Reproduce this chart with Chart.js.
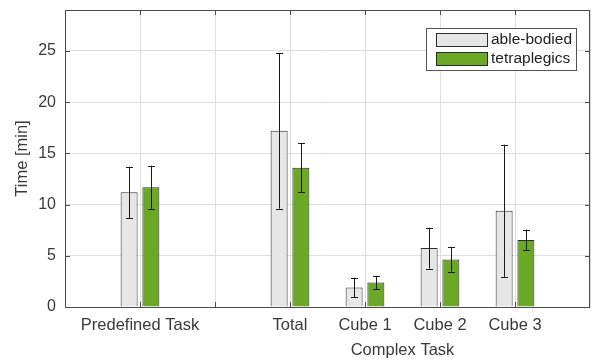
<!DOCTYPE html>
<html>
<head>
<meta charset="utf-8">
<script src="https://cdn.jsdelivr.net/npm/chart.js@4/dist/chart.umd.min.js"></script>
<style>
html,body{margin:0;padding:0;background:#fff;}
#wrap{width:594px;height:360px;position:relative;}
</style>
</head>
<body>
<div id="wrap"><canvas id="c" width="594" height="360"></canvas></div>
<script>
const categories = ["", "Predefined Task", "", "Total", "Cube 1", "Cube 2", "Cube 3", ""];
const ableMean  = [null, 11.2, 0, 17.2, 1.9, 5.75, 9.4, null];
const ableErr   = [null, 2.5, 0, 7.6, 0.95, 2.0, 6.45, null];
const tetraMean = [null, 11.7, 0, 13.6, 2.4, 4.65, 6.55, null];
const tetraErr  = [null, 2.1, 0, 2.4, 0.65, 1.2, 1.0, null];
const seriesNames = ["able-bodied", "tetraplegics"];
const groupLabel = "Complex Task";
const yTicks = [0, 5, 10, 15, 20, 25];

const FONT = "'Liberation Sans', Arial, Helvetica, sans-serif";
const TXT = '#3a3a3a';
const AXIS = '#4a4a4a';

const errorBars = {
  id: 'errorBars',
  afterDatasetsDraw(chart) {
    const ctx = chart.ctx, ys = chart.scales.y;
    const errs = [ableErr, tetraErr];
    ctx.save();
    ctx.strokeStyle = '#1a1a1a';
    ctx.lineWidth = 1;
    chart.data.datasets.forEach((ds, di) => {
      const meta = chart.getDatasetMeta(di);
      meta.data.forEach((bar, i) => {
        const v = ds.data[i], e = errs[di][i];
        if (v == null || !e) return;
        const x = Math.round(bar.x) + 0.5;
        const y1 = ys.getPixelForValue(v + e), y0 = ys.getPixelForValue(v - e);
        ctx.beginPath();
        ctx.moveTo(x, y0); ctx.lineTo(x, y1);
        ctx.moveTo(x - 3.5, Math.round(y1) + 0.5); ctx.lineTo(x + 3.5, Math.round(y1) + 0.5);
        ctx.moveTo(x - 3.5, Math.round(y0) + 0.5); ctx.lineTo(x + 3.5, Math.round(y0) + 0.5);
        ctx.stroke();
      });
    });
    ctx.restore();
  }
};

const boxAndDecor = {
  id: 'boxAndDecor',
  afterDraw(chart) {
    const ctx = chart.ctx, a = chart.chartArea, xs = chart.scales.x, ys = chart.scales.y;
    ctx.save();
    ctx.strokeStyle = AXIS; ctx.lineWidth = 1;
    ctx.strokeRect(Math.round(a.left) + 0.5, Math.round(a.top) + 0.5, Math.round(a.right - a.left) - 1, Math.round(a.bottom - a.top));
    ctx.beginPath();
    yTicks.forEach(t => {
      const y = Math.round(ys.getPixelForValue(t)) + 0.5;
      ctx.moveTo(a.left, y); ctx.lineTo(a.left + 5, y);
      ctx.moveTo(a.right, y); ctx.lineTo(a.right - 5, y);
    });
    for (let i = 1; i < categories.length - 1; i++) {
      const x = Math.round(xs.getPixelForValue(i)) + 0.5;
      ctx.moveTo(x, a.bottom); ctx.lineTo(x, a.bottom - 5);
      ctx.moveTo(x, a.top); ctx.lineTo(x, a.top + 5);
    }
    ctx.stroke();
    const xa = xs.getPixelForValue(3), xb = xs.getPixelForValue(6);
    ctx.fillStyle = TXT;
    ctx.font = '16.5px ' + FONT;
    ctx.textAlign = 'center'; ctx.textBaseline = 'middle';
    ctx.fillText(groupLabel, (xa + xb) / 2, a.bottom + 43);
    const lx = 426, ly = 28, lw = 150, lh = 42;
    ctx.fillStyle = '#fff';
    ctx.fillRect(lx, ly, lw, lh);
    ctx.strokeStyle = '#555';
    ctx.strokeRect(lx + 0.5, ly + 0.5, lw, lh);
    chart.data.datasets.forEach((ds, i) => {
      const py = ly + 5 + i * 19;
      ctx.fillStyle = ds.backgroundColor;
      ctx.fillRect(436, py, 51, 13);
      ctx.strokeStyle = ds.borderColor;
      ctx.strokeRect(436.5, py + 0.5, 51, 13);
      ctx.fillStyle = '#222';
      ctx.textAlign = 'left';
      ctx.font = '15.5px ' + FONT;
      ctx.fillText(ds.label, 491, py + 7);
    });
    ctx.restore();
  }
};

new Chart(document.getElementById('c'), {
  type: 'bar',
  data: {
    labels: categories,
    datasets: [
      { label: seriesNames[0], data: ableMean, backgroundColor: '#e6e6e6', borderColor: '#2e2e2e', borderWidth: 1,
        categoryPercentage: 0.58, barPercentage: 0.78 },
      { label: seriesNames[1], data: tetraMean, backgroundColor: '#6aa826', borderColor: '#2a2a2a', borderWidth: 1,
        categoryPercentage: 0.58, barPercentage: 0.78 }
    ]
  },
  options: {
    responsive: false,
    animation: false,
    devicePixelRatio: 1,
    layout: { padding: { left: 0, right: 4, top: 10, bottom: 0 } },
    plugins: { legend: { display: false }, tooltip: { enabled: false } },
    scales: {
      x: {
        type: 'category',
        offset: false,
        grid: { offset: false, color: '#dedede', drawTicks: false, lineWidth: 1 },
        border: { display: false },
        ticks: { color: TXT, font: { family: FONT, size: 16.5 }, padding: 9, autoSkip: false, maxRotation: 0 },
        afterFit(s) { s.height = 53; s.paddingLeft = 0; s.paddingRight = 0; }
      },
      y: {
        min: 0, max: 29,
        grid: { color: '#dedede', drawTicks: false },
        border: { display: false },
        afterBuildTicks(s) { s.ticks = yTicks.map(v => ({ value: v })); },
        ticks: { color: TXT, font: { family: FONT, size: 16 }, padding: 9 },
        title: { display: true, text: 'Time [min]', color: TXT, font: { family: FONT, size: 16.5 }, padding: { top: 13, bottom: 0 } },
        afterFit(s) { s.width = 65; s.paddingTop = 0; s.paddingBottom = 0; }
      }
    }
  },
  plugins: [errorBars, boxAndDecor]
});
</script>
</body>
</html>
